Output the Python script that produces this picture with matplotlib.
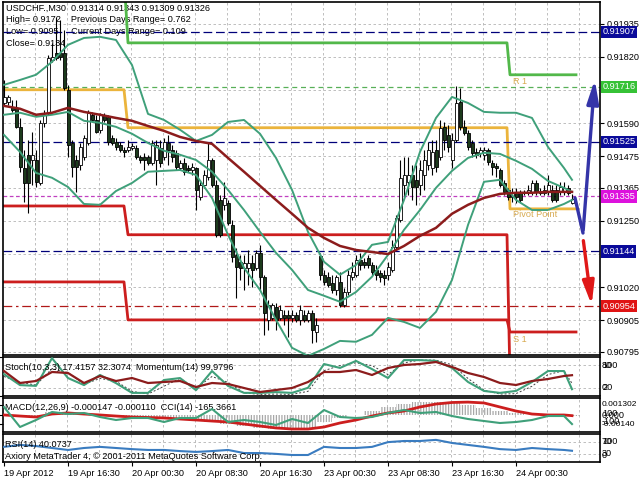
import numpy as np
import matplotlib
matplotlib.use("Agg")
import matplotlib.pyplot as plt
import matplotlib.transforms as mtransforms

plt.rcParams['font.family'] = ['Liberation Sans', 'DejaVu Sans']
plt.rcParams['hatch.linewidth'] = 0.9

# ---------------- data: USDCHF M30 candles ----------------
opens = [0.91660, 0.91664, 0.91646, 0.91643, 0.91577, 0.91434, 0.91480, 0.91462, 0.91462, 0.91382,
         0.91591, 0.91626, 0.91810, 0.91834, 0.91834, 0.91834, 0.91706, 0.91521, 0.91462, 0.91445,
         0.91473, 0.91521, 0.91619, 0.91601, 0.91567, 0.91619, 0.91612, 0.91539, 0.91525, 0.91514,
         0.91497, 0.91497, 0.91504, 0.91504, 0.91473, 0.91473, 0.91473, 0.91452, 0.91462, 0.91504,
         0.91473, 0.91521, 0.91497, 0.91487, 0.91434, 0.91452, 0.91434, 0.91427, 0.91434, 0.91334,
         0.91375, 0.91403, 0.91462, 0.91375, 0.91323, 0.91306, 0.91313, 0.91236, 0.91132, 0.91108,
         0.91087, 0.91087, 0.91104, 0.91087, 0.91139, 0.91056, 0.90906, 0.90913, 0.90951, 0.90913,
         0.90923, 0.90923, 0.90913, 0.90923, 0.90906, 0.90923, 0.90906, 0.90930, 0.90864, 0.91129,
         0.91063, 0.91056, 0.91035, 0.91010, 0.91038, 0.90958, 0.91003, 0.91056, 0.91063, 0.91115,
         0.91108, 0.91122, 0.91097, 0.91080, 0.91070, 0.91063, 0.91063, 0.91080, 0.91160, 0.91254,
         0.91375, 0.91386, 0.91410, 0.91393, 0.91375, 0.91410, 0.91445, 0.91434, 0.91497, 0.91473,
         0.91577, 0.91549, 0.91462, 0.91532, 0.91664, 0.91577, 0.91556, 0.91521, 0.91490, 0.91487,
         0.91480, 0.91497, 0.91452, 0.91441, 0.91427, 0.91382, 0.91358, 0.91334, 0.91351, 0.91348,
         0.91351, 0.91348, 0.91351, 0.91382, 0.91351, 0.91348, 0.91351, 0.91358, 0.91358, 0.91351,
         0.91351, 0.91365, 0.91314]
highs = [0.91740, 0.91688, 0.91671, 0.91671, 0.91608, 0.91497, 0.91532, 0.91560, 0.91497, 0.91601,
         0.91636, 0.91827, 0.91869, 0.91959, 0.91949, 0.91914, 0.91723, 0.91532, 0.91480, 0.91521,
         0.91549, 0.91636, 0.91629, 0.91619, 0.91626, 0.91626, 0.91619, 0.91549, 0.91539, 0.91525,
         0.91507, 0.91532, 0.91521, 0.91514, 0.91480, 0.91487, 0.91480, 0.91532, 0.91532, 0.91532,
         0.91539, 0.91549, 0.91514, 0.91497, 0.91462, 0.91469, 0.91445, 0.91452, 0.91438, 0.91393,
         0.91427, 0.91525, 0.91469, 0.91393, 0.91341, 0.91386, 0.91323, 0.91254, 0.91156, 0.91132,
         0.91132, 0.91149, 0.91132, 0.91149, 0.91167, 0.91063, 0.90976, 0.90965, 0.90965, 0.90958,
         0.90941, 0.90941, 0.90941, 0.90934, 0.90958, 0.90941, 0.90941, 0.90941, 0.90913, 0.91139,
         0.91080, 0.91073, 0.91063, 0.91063, 0.91073, 0.91017, 0.91080, 0.91108, 0.91132, 0.91139,
         0.91122, 0.91132, 0.91108, 0.91097, 0.91080, 0.91080, 0.91108, 0.91184, 0.91271, 0.91462,
         0.91473, 0.91473, 0.91445, 0.91445, 0.91462, 0.91497, 0.91525, 0.91532, 0.91532, 0.91601,
         0.91594, 0.91584, 0.91556, 0.91720, 0.91712, 0.91601, 0.91567, 0.91532, 0.91504, 0.91507,
         0.91507, 0.91504, 0.91462, 0.91452, 0.91434, 0.91393, 0.91365, 0.91365, 0.91365, 0.91358,
         0.91358, 0.91375, 0.91393, 0.91393, 0.91365, 0.91375, 0.91410, 0.91375, 0.91375, 0.91386,
         0.91386, 0.91375, 0.91343]
lows = [0.91653, 0.91653, 0.91629, 0.91574, 0.91421, 0.91316, 0.91278, 0.91375, 0.91368, 0.91375,
        0.91577, 0.91619, 0.91803, 0.91810, 0.91810, 0.91706, 0.91473, 0.91403, 0.91351, 0.91427,
        0.91462, 0.91514, 0.91594, 0.91556, 0.91556, 0.91594, 0.91514, 0.91514, 0.91497, 0.91490,
        0.91473, 0.91490, 0.91497, 0.91466, 0.91452, 0.91427, 0.91445, 0.91445, 0.91375, 0.91438,
        0.91462, 0.91445, 0.91455, 0.91427, 0.91427, 0.91410, 0.91421, 0.91410, 0.91288, 0.91323,
        0.91365, 0.91393, 0.91368, 0.91195, 0.91195, 0.91288, 0.91236, 0.91108, 0.90983, 0.91045,
        0.91010, 0.91028, 0.91021, 0.91080, 0.91010, 0.90854, 0.90871, 0.90906, 0.90871, 0.90906,
        0.90889, 0.90847, 0.90899, 0.90899, 0.90889, 0.90899, 0.90899, 0.90826, 0.90830, 0.91045,
        0.91028, 0.91021, 0.91000, 0.90993, 0.90951, 0.90951, 0.90993, 0.91045, 0.91056, 0.91080,
        0.91087, 0.91087, 0.91063, 0.91045, 0.91038, 0.91028, 0.91045, 0.91073, 0.91149, 0.91247,
        0.91334, 0.91341, 0.91323, 0.91306, 0.91341, 0.91358, 0.91427, 0.91410, 0.91421, 0.91462,
        0.91497, 0.91490, 0.91434, 0.91525, 0.91567, 0.91549, 0.91497, 0.91473, 0.91469, 0.91473,
        0.91462, 0.91445, 0.91410, 0.91403, 0.91368, 0.91341, 0.91323, 0.91316, 0.91313, 0.91316,
        0.91341, 0.91341, 0.91341, 0.91341, 0.91341, 0.91341, 0.91341, 0.91316, 0.91316, 0.91341,
        0.91341, 0.91341, 0.91309]
closes = [0.91681, 0.91681, 0.91636, 0.91577, 0.91438, 0.91382, 0.91382, 0.91480, 0.91386, 0.91591,
          0.91619, 0.91817, 0.91820, 0.91817, 0.91820, 0.91712, 0.91514, 0.91438, 0.91438, 0.91507,
          0.91539, 0.91626, 0.91601, 0.91560, 0.91619, 0.91601, 0.91525, 0.91521, 0.91507, 0.91497,
          0.91490, 0.91507, 0.91511, 0.91473, 0.91462, 0.91462, 0.91452, 0.91521, 0.91514, 0.91452,
          0.91525, 0.91497, 0.91473, 0.91438, 0.91452, 0.91421, 0.91427, 0.91438, 0.91358, 0.91375,
          0.91410, 0.91462, 0.91375, 0.91202, 0.91202, 0.91330, 0.91243, 0.91125, 0.91090, 0.91087,
          0.91104, 0.91104, 0.91080, 0.91139, 0.91056, 0.90930, 0.90958, 0.90958, 0.90906, 0.90941,
          0.90913, 0.90913, 0.90923, 0.90906, 0.90941, 0.90906, 0.90930, 0.90871, 0.90889, 0.91063,
          0.91038, 0.91028, 0.91010, 0.91056, 0.90958, 0.91003, 0.91063, 0.91073, 0.91115, 0.91097,
          0.91097, 0.91097, 0.91073, 0.91063, 0.91056, 0.91052, 0.91090, 0.91160, 0.91261, 0.91400,
          0.91410, 0.91410, 0.91368, 0.91368, 0.91427, 0.91462, 0.91497, 0.91490, 0.91438, 0.91574,
          0.91532, 0.91507, 0.91532, 0.91660, 0.91577, 0.91556, 0.91507, 0.91487, 0.91480, 0.91497,
          0.91497, 0.91455, 0.91438, 0.91434, 0.91375, 0.91351, 0.91334, 0.91351, 0.91334, 0.91323,
          0.91348, 0.91358, 0.91382, 0.91351, 0.91348, 0.91358, 0.91375, 0.91323, 0.91323, 0.91368,
          0.91365, 0.91348, 0.91326]

# indicator readings, every 4th bar
band_idx = list(range(0, 141, 4)) + [142]
upper_band = [0.91723, 0.91740, 0.91758, 0.91803, 0.91862, 0.91886, 0.91890, 0.91879, 0.91792, 0.91622,
              0.91601, 0.91567, 0.91528, 0.91549, 0.91594, 0.91601, 0.91553, 0.91469, 0.91358, 0.91212,
              0.91108, 0.91063, 0.91097, 0.91167, 0.91177, 0.91323, 0.91490, 0.91608, 0.91681, 0.91660,
              0.91629, 0.91626, 0.91626, 0.91608, 0.91507, 0.91434, 0.91393]
mid_band = [0.91619, 0.91626, 0.91612, 0.91619, 0.91629, 0.91598, 0.91591, 0.91577, 0.91553, 0.91521,
            0.91494, 0.91480, 0.91462, 0.91421, 0.91358, 0.91288, 0.91212, 0.91139, 0.91080, 0.91010,
            0.90990, 0.90969, 0.91003, 0.91056, 0.91132, 0.91219, 0.91288, 0.91365, 0.91424, 0.91469,
            0.91487, 0.91483, 0.91459, 0.91431, 0.91389, 0.91365, 0.91351]
lower_band = [0.91549, 0.91490, 0.91417, 0.91400, 0.91368, 0.91309, 0.91306, 0.91354, 0.91382, 0.91421,
              0.91424, 0.91427, 0.91410, 0.91330, 0.91202, 0.91087, 0.91010, 0.90906, 0.90809, 0.90781,
              0.90805, 0.90833, 0.90830, 0.90854, 0.90913, 0.90899, 0.90878, 0.90934, 0.91045, 0.91236,
              0.91386, 0.91393, 0.91323, 0.91288, 0.91288, 0.91309, 0.91323]
ma_line = [0.91650, 0.91640, 0.91619, 0.91626, 0.91643, 0.91629, 0.91619, 0.91608, 0.91598, 0.91580,
           0.91563, 0.91542, 0.91528, 0.91518, 0.91469, 0.91421, 0.91372, 0.91323, 0.91275, 0.91226,
           0.91191, 0.91163, 0.91149, 0.91142, 0.91135, 0.91163, 0.91198, 0.91226, 0.91275, 0.91306,
           0.91330, 0.91344, 0.91348, 0.91348, 0.91351, 0.91351, 0.91351]

stoch_main = [56, 28, 26, 97, 46, 28, 54, 33, 8, 8, 41, 46, 15, 64, 26, 8, 8, 10, 8, 21,
              82, 72, 90, 69, 46, 92, 92, 90, 72, 36, 13, 8, 13, 36, 64, 64, 17.4157]
stoch_signal = [50, 35, 28, 70, 60, 30, 45, 38, 12, 5, 25, 45, 20, 50, 35, 8, 4, 5, 4, 12,
                65, 78, 85, 78, 55, 85, 92, 92, 80, 45, 15, 5, 6, 25, 55, 65, 32.3074]
momentum = [99.988, 99.964, 99.968, 99.986, 99.984, 99.964, 99.978, 99.968, 99.974, 99.964,
            99.966, 99.968, 99.956, 99.964, 99.962, 99.954, 99.946, 99.950, 99.954, 99.966,
            99.986, 99.986, 99.990, 99.980, 99.994, 100.000, 100.002, 100.006, 99.996, 99.984,
            99.976, 99.964, 99.960, 99.968, 99.972, 99.978, 99.9796]
macd_main = [0.00010, -0.00020, -0.00020, 0.00030, 0.00020, 0.00000, -0.00010, -0.00020, -0.00030, -0.00030,
             -0.00040, -0.00050, -0.00070, -0.00080, -0.00100, -0.00120, -0.00140, -0.00150, -0.00150, -0.00140,
             -0.00080, -0.00040, 0.00000, 0.00040, 0.00080, 0.00110, 0.00130, 0.00130, 0.00120, 0.00100,
             0.00070, 0.00040, 0.00020, 0.00000, -0.00010, -0.00010, -0.000147]
macd_signal = [-0.00004, -0.00015, -0.00025, 0.00006, 0.00017, 0.00006, -0.00004, -0.00015, -0.00025, -0.00030,
               -0.00035, -0.00046, -0.00056, -0.00067, -0.00077, -0.00098, -0.00119, -0.00139, -0.00150, -0.00150,
               -0.00129, -0.00087, -0.00056, -0.00015, 0.00017, 0.00037, 0.00079, 0.00110, 0.00126, 0.00130,
               0.00121, 0.00079, 0.00037, 0.00006, -0.00004, -0.00004, -0.00011]
cci = [210, -230, -76, 100, 56, 78, -10, -76, -32, -32, -120, -32, -32, 166, -120, -76, -120, -186, -54, -142,
       144, -10, -32, -10, 78, 144, 78, 100, 12, -54, -98, -142, -120, -76, 12, 12, -165.3661]
rsi = [54, 61, 57, 50, 43, 50, 54, 50, 46, 43, 43, 39, 36, 39, 43, 32, 32, 29, 25, 25,
       54, 50, 50, 54, 71, 75, 75, 79, 68, 61, 54, 46, 43, 50, 46, 43, 40.0737]

# daily pivot levels (day before yesterday, yesterday, today)
day_x = [-0.25, 30, 31, 125.75, 126.5, 143]
pivot_lv = [0.91706, 0.91574, 0.91292]
r1_lv = [0.92100, 0.91869, 0.91758]
s1_lv = [0.91302, 0.91202, 0.90700]
s2_lv = [0.91038, 0.90906, 0.90864]

# horizontal levels drawn with a price box on the right
levels = [0.91907, 0.91716, 0.91525, 0.91335, 0.91144, 0.90954]
level_colors = ['#0a0a9a', '#36c236', '#0a0a9a', '#dd11dd', '#0a0a9a', '#e01414']

price_ticks = [0.91935, 0.91820, 0.91590, 0.91475, 0.91365, 0.91250, 0.91020, 0.90905, 0.90795]
grid_prices = [0.91935, 0.91820, 0.91705, 0.91590, 0.91475, 0.91365, 0.91250, 0.91135, 0.91020, 0.90905, 0.90795]

date_idx = [0, 16, 32, 48, 64, 80, 96, 112, 128]
date_labels = ['19 Apr 2012', '19 Apr 16:30', '20 Apr 00:30', '20 Apr 08:30', '20 Apr 16:30',
               '23 Apr 00:30', '23 Apr 08:30', '23 Apr 16:30', '24 Apr 00:30']

# projection arrows
blue_x = [142.75, 144.75, 147.75]
blue_y = [0.91330, 0.91208, 0.91751]
red_x = [144.75, 147.0]
red_y = [0.91191, 0.90948]

GREEN = '#3fa07a'
BROWN = '#8c1c1c'
GOLD = '#ebb43c'
LGREEN = '#52b84a'
RED = '#cc1e1e'
NAVY = '#00007a'
GRID = '#b4b4b4'
FS = 6.6

W, H = 640, 480
fig = plt.figure(figsize=(6.4, 4.8), dpi=100)


def box(top, bottom):
    return [3 / W, 1 - bottom / H, 597 / W, (bottom - top) / H]


ax = fig.add_axes(box(2, 355))
ax_st = fig.add_axes(box(357, 396))
ax_md = fig.add_axes(box(398, 432))
ax_rs = fig.add_axes(box(434, 462))
panels = [ax, ax_st, ax_md, ax_rs]

for a in panels:
    a.set_xlim(-0.25, 149)
    for s in a.spines.values():
        s.set_linewidth(1.2)
        s.set_color('black')
    for g in range(8, 149, 8):
        a.axvline(g - 0.25, color=GRID, lw=0.6, ls=(0, (3, 3)), zorder=0)
    a.tick_params(axis='x', bottom=False, labelbottom=False)
    a.tick_params(axis='y', left=False, labelleft=False)

# ---------------- main price panel ----------------
ax.set_ylim(0.90784, 0.92011)
for p in grid_prices:
    ax.axhline(p, color=GRID, lw=0.6, ls=(0, (3, 3)), zorder=0)

idx = np.arange(len(closes))
o, h, l, c = map(np.array, (opens, highs, lows, closes))
h = np.maximum(h, np.maximum(o, c))
l = np.minimum(l, np.minimum(o, c))
up = c >= o
body_lo = np.minimum(o, c)
body_h = np.maximum(np.abs(c - o), 0.00002)
ax.vlines(idx, l, h, color='black', lw=0.8, zorder=3)
ax.bar(idx[up], body_h[up], bottom=body_lo[up], width=0.75, color='white',
       edgecolor='black', lw=0.6, zorder=4)
ax.bar(idx[~up], body_h[~up], bottom=body_lo[~up], width=0.75, color='#1c3a1c',
       edgecolor='black', lw=0.6, zorder=4)


def steps(lv):
    return [lv[0], lv[0], lv[1], lv[1], lv[2], lv[2]]


ax.plot(day_x, steps(r1_lv), color=LGREEN, lw=2, zorder=2)
ax.plot(day_x, steps(pivot_lv), color=GOLD, lw=2, zorder=2)
ax.plot(day_x, steps(s1_lv), color=RED, lw=2, zorder=2)
ax.plot(day_x, steps(s2_lv), color=RED, lw=2, zorder=2)

ax.plot(band_idx, upper_band, color=GREEN, lw=1.4, zorder=5)
ax.plot(band_idx, mid_band, color=GREEN, lw=1.4, zorder=5)
ax.plot(band_idx, lower_band, color=GREEN, lw=1.4, zorder=5)
ax.plot(band_idx, ma_line, color=BROWN, lw=1.8, zorder=5)

line_styles = [(0, (7, 3)), (0, (4, 3)), (0, (7, 3)), (0, (3, 2)), (0, (7, 3)), (0, (7, 3, 2, 3))]
line_colors = [NAVY, '#58b058', NAVY, '#c040c0', NAVY, '#b01818']
for lv, lc, ls in zip(levels, line_colors, line_styles):
    ax.axhline(lv, color=lc, lw=0.9, ls=ls, zorder=2)

ax.text(127.3, 0.91733, 'R 1', color='#d8aa50', fontsize=FS, va='center', zorder=6)
ax.text(127.3, 0.91271, 'Pivot Point', color='#d8aa50', fontsize=FS, va='center', zorder=6)
ax.text(127.3, 0.90837, 'S 1', color='#d8aa50', fontsize=FS, va='center', zorder=6)

ax.plot(blue_x[:2], blue_y[:2], color='#3434a8', lw=2.4, zorder=7, solid_capstyle='round')
ax.annotate('', xy=(blue_x[2], blue_y[2]), xytext=(blue_x[1], blue_y[1]),
            arrowprops=dict(arrowstyle='-|>,head_length=1.4,head_width=0.35',
                            color='#3434a8', lw=2.4), zorder=7)
ax.annotate('', xy=(red_x[1], red_y[1]), xytext=(red_x[0], red_y[0]),
            arrowprops=dict(arrowstyle='-|>,head_length=1.4,head_width=0.35',
                            color='#e01818', lw=2.4), zorder=7)

ax.yaxis.tick_right()
ax.set_yticks(price_ticks)
ax.set_yticklabels([f'{v:.5f}' for v in price_ticks])
ax.tick_params(axis='y', right=True, labelright=True, labelsize=FS, length=3, pad=2)

trans = mtransforms.blended_transform_factory(ax.transAxes, ax.transData)
for lv, col in zip(levels, level_colors):
    ax.text(1.004, lv, f'{lv:.5f}', transform=trans, color='white', fontsize=FS,
            va='center', ha='left', zorder=8, clip_on=False,
            bbox=dict(boxstyle='square,pad=0.18', fc=col, ec='none'))

header = [f'USDCHF.,M30  {opens[-1]:.5f} {highs[-1]:.5f} {lows[-1]:.5f} {closes[-1]:.5f}',
          'High= 0.9172    Previous Days Range= 0.762',
          'Low= 0.9095     Current Days Range= 0.109',
          'Close= 0.9134']
for k, line in enumerate(header):
    ax.text(6 / W, 1 - (8 + 12 * k) / H, line, transform=fig.transFigure, fontsize=FS,
            va='center', ha='left', zorder=1)

# ---------------- stochastic + momentum ----------------
ax_st.set_ylim(0, 100)
for lv in (20, 80):
    ax_st.axhline(lv, color=GRID, lw=0.6, ls=(0, (3, 3)), zorder=0)
ax_st.plot(band_idx, stoch_signal, color='#404040', lw=0.7, ls=(0, (2, 2)), zorder=3)
ax_st.plot(band_idx, stoch_main, color=GREEN, lw=1.5, zorder=4)
ax_mom = ax_st.twinx()
ax_mom.set_ylim(99.938, 100.016)
ax_mom.plot(band_idx, momentum, color=BROWN, lw=1.6, zorder=4)
ax_mom.axis('off')
ax_st.text(0.004, 0.74, f'Stoch(10,3,3) {stoch_main[-1]:.4f} {stoch_signal[-1]:.4f}  '
           f'Momentum(14) {momentum[-1]:.4f}', transform=ax_st.transAxes,
           fontsize=FS, va='center', zorder=6)

# ---------------- MACD + CCI ----------------
ax_md.set_ylim(-0.00181, 0.001726)
ax_md.bar(band_idx, macd_main, width=4, facecolor='none', edgecolor='#a8a8a8',
          hatch='||||||', lw=0, zorder=2)
ax_md.plot(band_idx, macd_signal, color=RED, lw=2, zorder=3)
ax_cci = ax_md.twinx()
ax_cci.set_ylim(-340, 408)
ax_cci.plot(band_idx, cci, color=GREEN, lw=1.5, zorder=4)
ax_cci.axis('off')
ax_md.text(0.004, 0.71, f'MACD(12,26,9) {macd_main[-1]:.6f} {macd_signal[-1]:.6f}  '
           f'CCI(14) {cci[-1]:.4f}', transform=ax_md.transAxes, fontsize=FS,
           va='center', zorder=6)

# ---------------- RSI ----------------
ax_rs.set_ylim(0, 100)
for lv in (30, 70):
    ax_rs.axhline(lv, color=GRID, lw=0.6, ls=(0, (3, 3)), zorder=0)
ax_rs.plot(band_idx, rsi, color='#3a7cc0', lw=1.5, zorder=3)
ax_rs.text(0.004, 0.61, f'RSI(14) {rsi[-1]:.4f}', transform=ax_rs.transAxes,
           fontsize=FS, va='center', zorder=6)
ax_rs.text(0.004, 0.21, 'Axiory MetaTrader 4, \u00a9 2001-2011 MetaQuotes Software Corp.',
           transform=ax_rs.transAxes, fontsize=FS, va='center', zorder=6)
ax_rs.set_xticks(date_idx)
ax_rs.set_xticklabels(date_labels, ha='left')
ax_rs.tick_params(axis='x', bottom=True, labelbottom=True, labelsize=FS, length=3, pad=2)

# right-hand scale labels of the sub windows (MT4 draws them on top of each other)
side = [('100', 365, FS), ('80', 365, FS), ('20', 387, FS), ('0', 388, FS),
        ('0.001302', 405, 6.0), ('100', 414, FS), ('0.000', 415, FS), ('-100', 421, FS),
        ('-0.00140', 425, 6.0), ('100', 442, FS), ('70', 442, FS), ('30', 453, FS), ('0', 455, FS)]
for txt, py, fs in side:
    fig.text(602 / W, 1 - py / H, txt, fontsize=fs, va='center', ha='left')

fig.savefig('out.png', dpi=100, facecolor='white')
